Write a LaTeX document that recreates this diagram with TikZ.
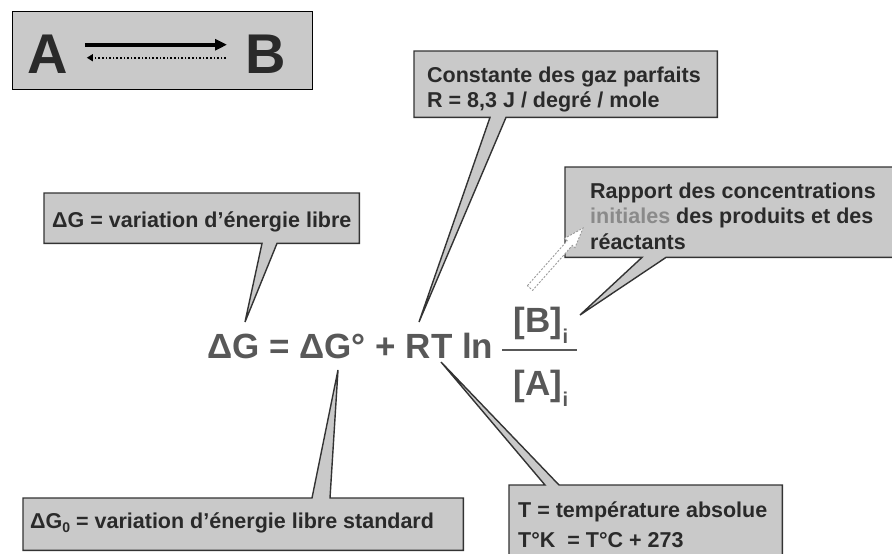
\documentclass[tikz,border=0pt]{standalone}
\usepackage{fontspec}
\setmainfont{Liberation Sans}
\usetikzlibrary{calc,backgrounds,arrows.meta}

\definecolor{boxfill}{HTML}{C9C9C9}
\definecolor{boxline}{HTML}{333333}
\definecolor{ink}{HTML}{2A2A2A}
\definecolor{eqink}{HTML}{585858}
\definecolor{softink}{HTML}{8A8A8A}
\definecolor{hollow}{HTML}{9A9A9A}

% outline of a callout box whose tail leaves the bottom edge
\newcommand\calloutbelow[4]{%
  \path[callout] (#1.north west) -- (#1.north east) -- (#1.south east)
    -- ([xshift=#3]#1.south west) -- (#4) -- ([xshift=#2]#1.south west)
    -- (#1.south west) -- cycle;}
% outline of a callout box whose tail leaves the top edge
\newcommand\calloutabove[4]{%
  \path[callout] (#1.south west) -- (#1.south east) -- (#1.north east)
    -- ([xshift=#3]#1.north west) -- (#4) -- ([xshift=#2]#1.north west)
    -- (#1.north west) -- cycle;}

\begin{document}
\begin{tikzpicture}[x=1pt,y=-1pt,
  callout/.style={fill=boxfill,draw=boxline,line width=1.4pt,line join=miter},
  panel/.style={anchor=north west,inner sep=0pt,minimum width=#1},
  note/.style={font=\fontsize{21.5}{25.5}\selectfont\bfseries,text=ink,
    align=left,inner sep=0pt,anchor=north west},
  eqtext/.style={font=\fontsize{35}{40}\selectfont\bfseries,text=eqink,inner sep=0pt},
  big/.style={font=\fontsize{56}{60}\selectfont\bfseries,text=ink,inner sep=0pt},
  fwd/.style={line width=4pt,-{Triangle[length=12pt,width=11pt]}},
  back/.style={line width=1.6pt,dotted,-{Triangle[length=6pt,width=7pt]}}]
\useasboundingbox (0,0) rectangle (892,554);

% ---------- reaction A -> B ----------
\node[draw=black,line width=1.4pt,fill=boxfill,minimum width=300pt,minimum height=78pt,
  anchor=north west,inner sep=0pt] (react) at (12,11) {};
\node[big,anchor=base west] (nA) at (27,73) {A};
\node[big,anchor=base west] (nB) at (245,73) {B};
\draw[fwd] ([shift={(17,-9)}]nA.east) -- ([shift={(-18,-9)}]nB.west);
\draw[back] ([shift={(-19,4)}]nB.west) -- ([shift={(19,4)}]nA.east);

% ---------- the equation ----------
\node[eqtext,anchor=base west] (eq) at (207,358) {ΔG = ΔG° + RT ln};
\node[eqtext,anchor=base] (num) at (541,332)
  {[B]\raisebox{-11pt}{\fontsize{20}{20}\selectfont i}};
\node[eqtext,anchor=base] (den) at (541,395)
  {[A]\raisebox{-11pt}{\fontsize{20}{20}\selectfont i}};
\coordinate (barL) at (502,350);
\coordinate (barR) at (577,350);
\draw[eqink,line width=2pt] (barL) -- (barR);

% points of the equation the callouts refer to
\coordinate (tipDG)   at (245,322);
\coordinate (tipR)    at (419,322);
\coordinate (tipFrac) at (580,315);
\coordinate (tipDG0)  at (338,370);
\coordinate (tipT)    at (441,362);

% ---------- callout panels ----------
\node[panel=315pt,minimum height=50pt] (bDG)  at (44,193)  {};
\node[panel=303pt,minimum height=66pt] (bR)   at (414,51)  {};
\node[panel=330pt,minimum height=90pt] (bQ)   at (565,167) {};
\node[panel=440pt,minimum height=52pt] (bDG0) at (23,498)  {};
\node[panel=273pt,minimum height=78pt] (bT)   at (509,485) {};

\begin{scope}[on background layer]
  \calloutbelow{bDG}{218}{233}{tipDG}
  \calloutbelow{bR}{76}{92}{tipR}
  \calloutbelow{bQ}{77}{101}{tipFrac}
  \calloutabove{bDG0}{289}{307}{tipDG0}
  \calloutabove{bT}{36}{50}{tipT}
\end{scope}

% ---------- callout texts ----------
\node[note,anchor=base west] (tDG) at ([shift={(8,34)}]bDG.north west)
  {ΔG = variation d’énergie libre};
\node[note] (tR) at ([shift={(13,15.5)}]bR.north west)
  {Constante des gaz parfaits\\R = 8,3 J / degré / mole};
\node[note] (tQ) at ([shift={(25,15.5)}]bQ.north west)
  {Rapport des concentrations\\{\color{softink}initiales} des produits et des\\réactants};
\node[note,anchor=base west] (tDG0) at ([shift={(7,30)}]bDG0.north west)
  {ΔG\raisebox{-4pt}{\fontsize{14}{14}\selectfont 0} = variation d'énergie libre standard};
\node[note,font=\fontsize{21.5}{30}\selectfont\bfseries] (tT) at ([shift={(9,16.5)}]bT.north west)
  {T = température absolue\\T°K \ = T°C + 273};

% ---------- hollow dashed pointer towards "initiales" ----------
\coordinate (ptrStart) at (530,288);
\begin{scope}[shift={(ptrStart)},rotate=48.5]
  \draw[hollow,dash pattern=on 2pt off 1.5pt,line width=0.9pt,fill=white,line join=miter]
    (0,-3.5) -- (60,-3.5) -- (60,-7) -- (80,0) -- (60,7) -- (60,3.5) -- (0,3.5) -- cycle;
\end{scope}
\end{tikzpicture}
\end{document}
